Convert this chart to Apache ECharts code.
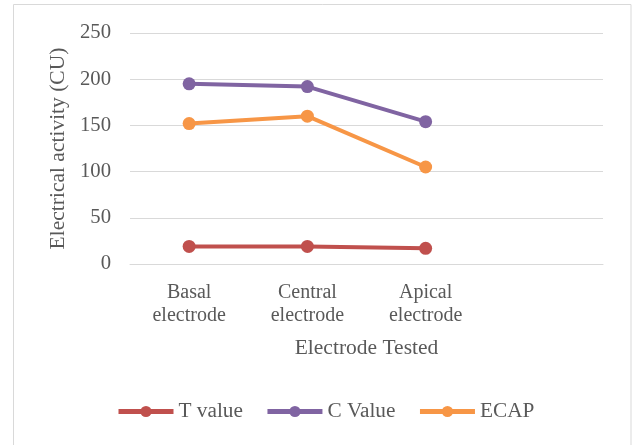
<!DOCTYPE html>
<html><head><meta charset="utf-8">
<script src="https://cdn.jsdelivr.net/npm/echarts@6/dist/echarts.min.js"></script>
<style>html,body{margin:0;padding:0;background:#fff}#c{width:632px;height:445px}</style>
</head><body><div id="c"></div>
<script>
const categories = ['Basal\nelectrode', 'Central\nelectrode', 'Apical\nelectrode', ''];
const tValue = [19, 19, 17];
const cValue = [195, 192, 154];
const ecap = [152, 160, 105];
const yTicks = [0, 50, 100, 150, 200, 250];

const font = '"Liberation Serif", "Times New Roman", serif';
const txt = '#595959';
const chart = echarts.init(document.getElementById('c'), null, {renderer: 'canvas'});
const mk = (name, data, color) => ({
  name, type: 'line', data, symbol: 'circle', symbolSize: 13,
  lineStyle: {width: 4, color}, itemStyle: {color}, z: 3
});
chart.setOption({
  animation: false,
  textStyle: {fontFamily: font},
  graphic: [{type: 'rect', shape: {x: 13.5, y: 4.5, width: 617.5, height: 460},
    style: {fill: 'none', stroke: '#D9D9D9', lineWidth: 1}, silent: true}],
  grid: {left: 130, right: 29, top: 33, bottom: 181},
  xAxis: {
    type: 'category', data: categories, boundaryGap: true,
    axisLine: {show: true, lineStyle: {color: '#D9D9D9', width: 1}},
    axisTick: {show: false},
    axisLabel: {color: txt, fontSize: 20, fontFamily: font, margin: 17, lineHeight: 23, interval: 0},
    name: 'Electrode Tested', nameLocation: 'middle', nameGap: 73,
    nameTextStyle: {color: txt, fontSize: 21.5, fontFamily: font}
  },
  yAxis: {
    type: 'value', min: yTicks[0], max: yTicks[yTicks.length - 1], interval: 50,
    axisLine: {show: false}, axisTick: {show: false},
    splitLine: {lineStyle: {color: '#D9D9D9', width: 1}},
    axisLabel: {color: txt, fontSize: 20.7, fontFamily: font, margin: 19},
    name: 'Electrical activity (CU)', nameLocation: 'middle', nameGap: 49,
    nameTextStyle: {color: txt, fontSize: 21.5, fontFamily: font}
  },
  legend: {
    bottom: 18, left: 111, itemWidth: 55, itemHeight: 14, itemGap: 22,
    lineStyle: {width: 5},
    textStyle: {color: txt, fontSize: 21.3, fontFamily: font},
    data: ['T value', 'C Value', 'ECAP']
  },
  series: [
    mk('T value', tValue, '#C0504D'),
    mk('C Value', cValue, '#8064A2'),
    mk('ECAP', ecap, '#F79646')
  ]
});
</script></body></html>
